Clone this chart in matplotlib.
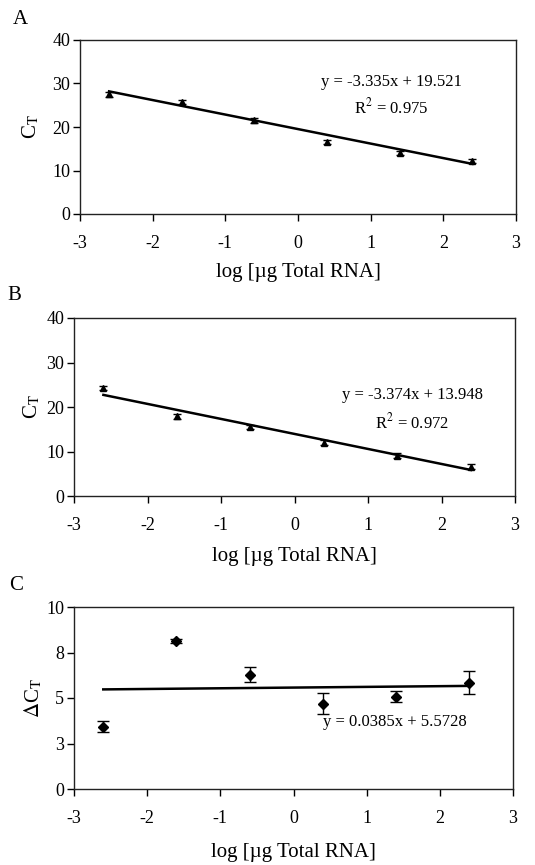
import matplotlib
matplotlib.use("Agg")
import matplotlib.pyplot as plt
import numpy as np

plt.rcParams['font.family'] = ['Liberation Serif', 'DejaVu Serif']
plt.rcParams['mathtext.fontset'] = 'stix'

log_rna = [-2.6, -1.6, -0.6, 0.4, 1.4, 2.4]
ct_a = [27.5, 25.8, 21.5, 16.6, 14.0, 12.2]
ct_a_err = [0.5, 0.5, 0.5, 0.5, 0.5, 0.5]
ct_b = [24.3, 17.9, 15.5, 12.0, 9.1, 6.6]
ct_b_err = [0.5, 0.5, 0.5, 0.5, 0.5, 0.5]
dct_c = [3.42, 8.13, 6.29, 4.68, 5.08, 5.85]
dct_c_err = [0.3, 0.1, 0.42, 0.57, 0.28, 0.63]

fit_a = (-3.335, 19.521)
fit_b = (-3.374, 13.948)
fit_c = (0.0385, 5.5728)

eq_a = ["y = -3.335x + 19.521", r"R$^{2}$ = 0.975"]
eq_b = ["y = -3.374x + 13.948", r"R$^{2}$ = 0.972"]
eq_c = "y = 0.0385x + 5.5728"

xticks = [-3, -2, -1, 0, 1, 2, 3]
xtick_labels = ["-3", "-2", "-1", "0", "1", "2", "3"]
ct_ticks = [0, 10, 20, 30, 40]
dct_ticks = [0, 2.5, 5, 7.5, 10]
dct_tick_labels = ["0", "3", "5", "8", "10"]

W, H = 535, 865
fig = plt.figure(figsize=(W / 100, H / 100), dpi=100)

def axes_px(l, r, t, b):
    return fig.add_axes([l / W, 1 - b / H, (r - l) / W, (b - t) / H])

def style(ax, top, bottom, left, label_y, ylab_x, ylab):
    ax.set_xlim(-3, 3)
    ax.set_xticks(xticks)
    ax.set_xticklabels(xtick_labels)
    ax.tick_params(direction='out', length=5, width=1, labelsize=13,
                   top=False, right=False)
    ax.tick_params(axis='x', pad=10)
    ax.tick_params(axis='y', pad=2)
    for s in ax.spines.values():
        s.set_linewidth(1)
        s.set_color('#222222')
    h = bottom - top
    lab = ax.set_xlabel("log [µg Total RNA]", fontsize=15)
    lab.set_va('center')
    ax.xaxis.set_label_coords(0.5, -(label_y - bottom) / h)
    yl = ax.set_ylabel(ylab, fontsize=15)
    yl.set_va('center')
    ax.yaxis.set_label_coords(ylab_x, 0.5)

xline = np.array([log_rna[0], log_rna[-1]])

# Panel A
axA = axes_px(80, 516, 40, 214)
axA.plot(xline, fit_a[0] * xline + fit_a[1], color='black', lw=1.8)
axA.errorbar(log_rna, ct_a, yerr=ct_a_err, fmt='^', color='black', ms=5,
             capsize=3, elinewidth=1)
axA.set_ylim(0, 40)
axA.set_yticks(ct_ticks)
style(axA, 40, 214, 80, 272, -0.112, r"C$_{\mathrm{T}}$")
axA.text(1.28, 30.3, eq_a[0], ha='center', va='center', fontsize=12)
axA.text(1.28, 24.4, eq_a[1], ha='center', va='center', fontsize=12)
fig.text(20 / W, 1 - 20 / H, "A", fontsize=15, ha='center', va='center')

# Panel B
axB = axes_px(74, 515, 318, 496)
axB.plot(xline, fit_b[0] * xline + fit_b[1], color='black', lw=1.8)
axB.errorbar(log_rna, ct_b, yerr=ct_b_err, fmt='^', color='black', ms=5,
             capsize=3, elinewidth=1)
axB.set_ylim(0, 40)
axB.set_yticks(ct_ticks)
style(axB, 318, 496, 74, 557, -0.095, r"C$_{\mathrm{T}}$")
axB.text(1.6, 22.7, eq_b[0], ha='center', va='center', fontsize=12)
axB.text(1.6, 16.6, eq_b[1], ha='center', va='center', fontsize=12)
fig.text(14 / W, 1 - 296 / H, "B", fontsize=15, ha='center', va='center')

# Panel C
axC = axes_px(74, 513, 607, 789)
axC.plot(xline, fit_c[0] * xline + fit_c[1], color='black', lw=1.8)
axC.errorbar(log_rna, dct_c, yerr=dct_c_err, fmt='D', color='black', ms=5,
             capsize=4, elinewidth=1)
axC.set_ylim(0, 10)
axC.set_yticks(dct_ticks)
axC.set_yticklabels(dct_tick_labels)
style(axC, 607, 789, 74, 853, -0.093, r"$\Delta$C$_{\mathrm{T}}$")
axC.text(1.39, 3.68, eq_c, ha='center', va='center', fontsize=12)
fig.text(16 / W, 1 - 585 / H, "C", fontsize=15, ha='center', va='center')

fig.savefig("out.png", dpi=100)
